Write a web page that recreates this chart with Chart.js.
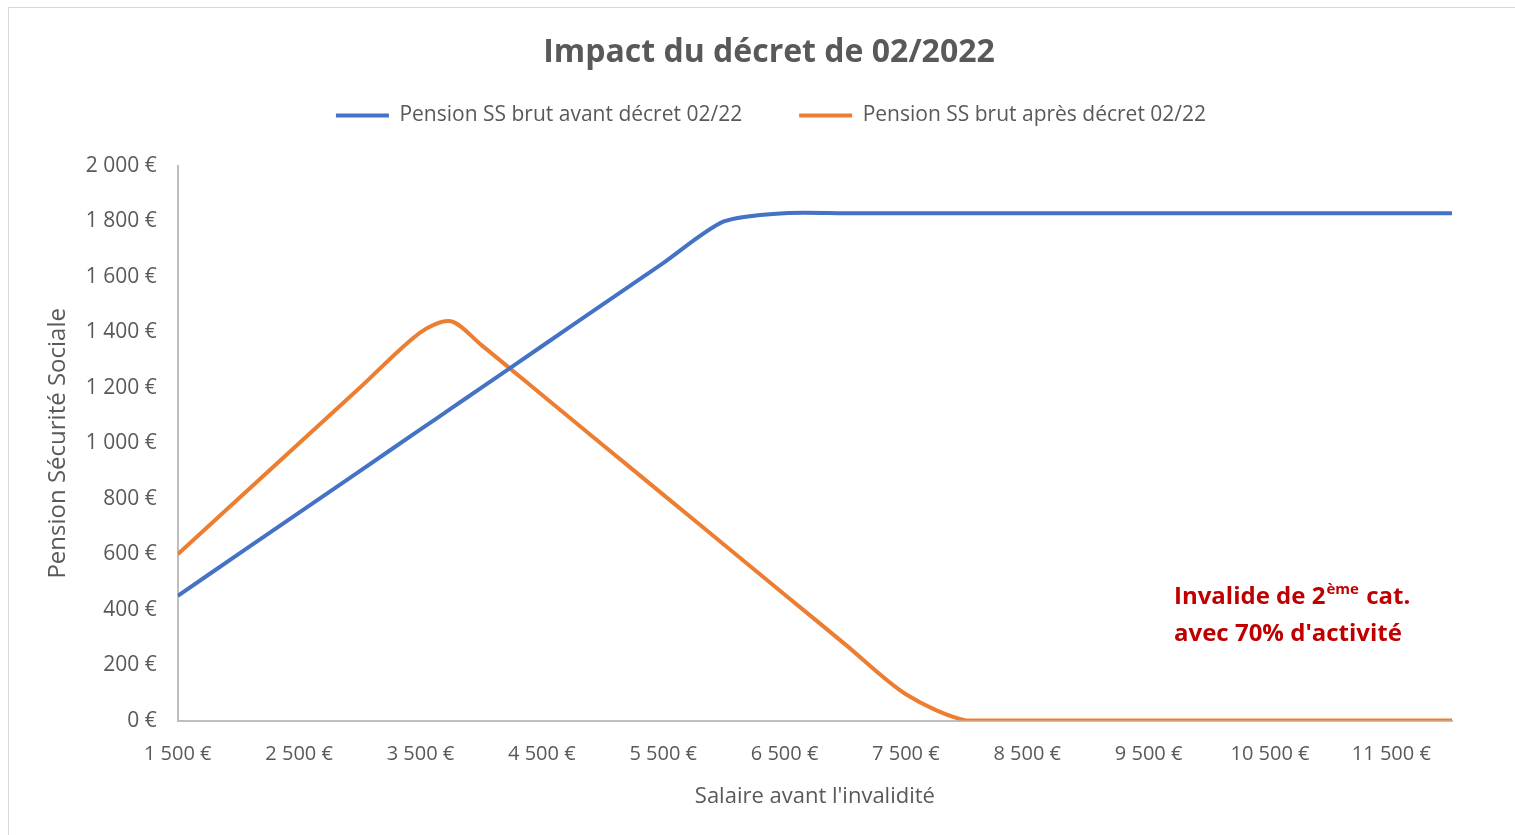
<!DOCTYPE html>
<html>
<head>
<meta charset="utf-8">
<script src="https://cdn.jsdelivr.net/npm/chart.js@4/dist/chart.umd.min.js"></script>
<style>
  body { margin: 0; background: #fff; }
  #wrap { position: relative; width: 1515px; height: 835px; }
  #frame { position: absolute; left: 8px; top: 7px; right: -2px; bottom: -2px; border: 1px solid #d9d9d9; }
</style>
</head>
<body>
<div id="wrap">
  <div id="frame"></div>
  <canvas id="pensionChart" width="1515" height="835"></canvas>
</div>
<script>
// salaire avant l'invalidité (€)
const salaires = [1500, 2000, 2500, 3000, 3500, 3750, 4000, 4500, 5000, 5500, 6000, 6500,
  7000, 7500, 8000, 8500, 9000, 9500, 10000, 10500, 11000, 11500, 12000];
const pensionAvant = [450, 600, 750, 900, 1050, 1125, 1200, 1350, 1500, 1650, 1800, 1830,
  1830, 1830, 1830, 1830, 1830, 1830, 1830, 1830, 1830, 1830, 1830];
const pensionApres = [600, 800, 1000, 1200, 1400, 1440, 1355, 1175, 995, 815, 635, 455,
  275, 95, 0, 0, 0, 0, 0, 0, 0, 0, 0];
const xTicks = [1500, 2500, 3500, 4500, 5500, 6500, 7500, 8500, 9500, 10500, 11500];

const grey = '#595959';
const fmt = v => String(v).replace(/\B(?=(\d{3})+(?!\d))/g, ' ') + ' €';

const toPoints = vals => salaires.map((s, i) => ({ x: s, y: vals[i] }));

// titre + texte rouge
const textPlugin = {
  id: 'texts',
  afterDraw(chart) {
    const ctx = chart.ctx;
    const a = chart.chartArea;
    ctx.save();
    ctx.fillStyle = grey;
    ctx.textAlign = 'center';
    ctx.textBaseline = 'middle';
    ctx.font = 'bold 32px "Open Sans"';
    ctx.fillText('Impact du décret de 02/2022', 769, 53);

    const x = a.right - 278;
    const y1 = a.bottom - 123;
    const y2 = a.bottom - 86;
    ctx.textAlign = 'left';
    ctx.fillStyle = '#c00000';
    ctx.font = 'bold 24px "Open Sans"';
    let t = 'Invalide de 2';
    ctx.fillText(t, x, y1);
    let w = ctx.measureText(t).width;
    ctx.font = 'bold 15px "Open Sans"';
    ctx.fillText('ème', x + w + 1, y1 - 8);
    let w2 = ctx.measureText('ème').width;
    ctx.font = 'bold 24px "Open Sans"';
    ctx.fillText(' cat.', x + w + w2 + 2, y1);
    ctx.fillText("avec 70% d'activité", x, y2);
    ctx.restore();
  }
};

// legende : hauteur fixe et decalee vers la droite
const legendTweak = {
  id: 'legendTweak',
  beforeInit(chart) {
    const fit = chart.legend.fit;
    chart.legend.fit = function () {
      fit.bind(chart.legend)();
      this.height = 118;
    };
  },
  afterLayout(chart) {
    chart.legend.left += 25;
    chart.legend.right += 25;
  }
};

const config = {
  type: 'line',
  data: {
    datasets: [{
      label: 'Pension SS brut avant décret 02/22',
      data: toPoints(pensionAvant),
      borderColor: '#4472c4',
      backgroundColor: '#4472c4',
      borderWidth: 4,
      pointRadius: 0,
      tension: 0.25
    }, {
      label: 'Pension SS brut après décret 02/22',
      data: toPoints(pensionApres),
      borderColor: '#ed7d31',
      backgroundColor: '#ed7d31',
      borderWidth: 4,
      pointRadius: 0,
      tension: 0.3
    }]
  },
  options: {
    responsive: false,
    animation: false,
    layout: { padding: { left: 40, right: 63, top: 48, bottom: 21 } },
    plugins: {
      title: { display: false },
      legend: {
        labels: {
          color: grey,
          font: { family: '"Open Sans"', size: 21 },
          usePointStyle: true,
          pointStyle: 'line',
          pointStyleWidth: 53,
          padding: 57
        }
      },
      tooltip: { enabled: false }
    },
    scales: {
      x: {
        type: 'linear',
        min: 1500,
        max: 12000,
        afterBuildTicks: axis => { axis.ticks = xTicks.map(v => ({ value: v })); },
        grid: { display: false },
        border: { display: true, color: '#bfbfbf', width: 2 },
        ticks: {
          color: grey,
          font: { family: '"Open Sans"', size: 20 },
          padding: 14,
          maxRotation: 0,
          autoSkip: false,
          callback: v => fmt(v)
        },
        title: {
          display: true,
          text: "Salaire avant l'invalidité",
          color: grey,
          font: { family: '"Open Sans"', size: 22 },
          padding: { top: 3 }
        }
      },
      y: {
        min: 0,
        max: 2000,
        grid: { display: false },
        border: { display: true, color: '#bfbfbf', width: 2 },
        ticks: {
          stepSize: 200,
          color: grey,
          font: { family: '"Open Sans"', size: 21 },
          padding: 13,
          callback: v => fmt(v)
        },
        title: {
          display: true,
          text: 'Pension Sécurité Sociale',
          color: grey,
          font: { family: '"Open Sans"', size: 24 },
          padding: { bottom: 0 }
        }
      }
    }
  },
  plugins: [textPlugin, legendTweak]
};

new Chart(document.getElementById('pensionChart'), config);
</script>
</body>
</html>
